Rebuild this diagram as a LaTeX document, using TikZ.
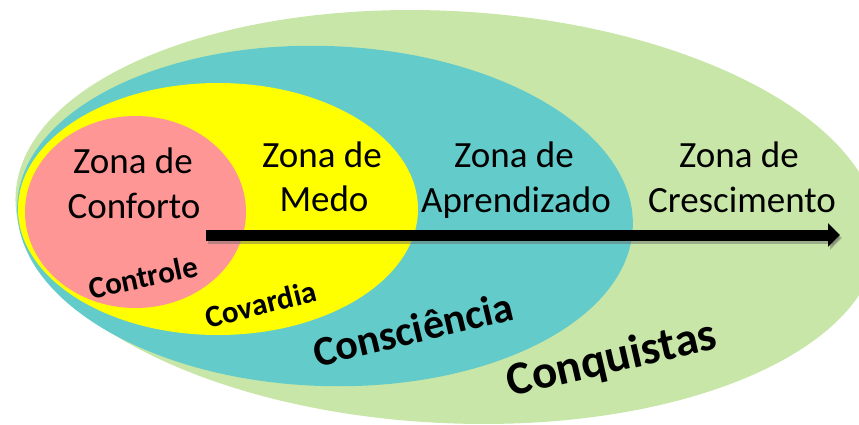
\documentclass[tikz,border=0pt]{standalone}
\usepackage{fontspec}
\setmainfont{Carlito}
\usepackage{tikz}
\usetikzlibrary{arrows.meta}
\definecolor{growthgreen}{RGB}{200,230,167}
\definecolor{learnteal}{RGB}{99,203,201}
\definecolor{fearyellow}{RGB}{255,255,0}
\definecolor{comfortpink}{RGB}{255,150,150}

\begin{document}
\begin{tikzpicture}[x=1pt,y=-1pt,
    zonelabel/.style={font=\fontsize{37}{44}\selectfont,anchor=base,inner sep=0pt},
    tagword/.style={font=\bfseries\fontsize{#1}{#1}\selectfont,inner sep=0pt}]
    \useasboundingbox (0,0) rectangle (859,424);
    \clip (0,0) rectangle (859,424);

    % Nested zones
    \fill[growthgreen,rotate around={-3:(447,217)}] (447,217) ellipse [x radius=432,y radius=206];
    \fill[learnteal,rotate around={-2:(325,216)}] (325,216) ellipse [x radius=308,y radius=170];
    \fill[fearyellow] (218,209) ellipse [x radius=200,y radius=126];
    \fill[comfortpink] (135.5,212) ellipse [x radius=110.5,y radius=96];

    % Growth arrow
    \coordinate (arrstart) at (206,235);
    \coordinate (arrend) at (840,235);
    \draw[line width=11pt,black!60,opacity=.45,-{Triangle[length=12pt,width=23pt]},
        transform canvas={shift={(2pt,-3pt)}}] (arrstart) -- (arrend);
    \draw[line width=11pt,-{Triangle[length=12pt,width=23pt]}] (arrstart) -- (arrend);

    % Zone names
    \node[zonelabel] (conforto1) at (133,173) {Zona de};
    \node[zonelabel] (conforto2) at (134,218) {Conforto};
    \node[zonelabel] (medo1) at (322,167) {Zona de};
    \node[zonelabel] (medo2) at (324,211) {Medo};
    \node[zonelabel] (aprend1) at (514,167) {Zona de};
    \node[zonelabel] (aprend2) at (516,212) {Aprendizado};
    \node[zonelabel] (cresc1) at (739,167) {Zona de};
    \node[zonelabel] (cresc2) at (742,212) {Crescimento};

    % Tags
    \node[tagword=31,rotate=12] (controle) at (143,277) {Controle};
    \node[tagword=31,rotate=14] (covardia) at (261,304) {Covardia};
    \node[tagword=42,rotate=13.5] (consciencia) at (413,329) {Consciência};
    \node[tagword=47,rotate=13] (conquistas) at (612,360) {Conquistas};
\end{tikzpicture}
\end{document}
